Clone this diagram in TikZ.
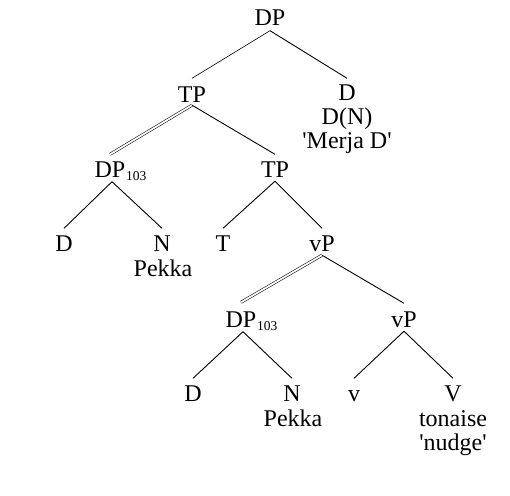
\documentclass[tikz,border=0pt]{standalone}
\usepackage{fontspec}
\setmainfont{Liberation Serif}[Ligatures=TeXOff]
\begin{document}
\begin{tikzpicture}[x=1pt,y=-1pt,
  lbl/.style={anchor=base, inner sep=0pt, font=\fontsize{24}{26}\selectfont},
  cat/.style={lbl, text height=15.5pt, text depth=0pt},
  subs/.style={anchor=base west, inner sep=0pt, font=\fontsize{13.5}{14}\selectfont},
  br/.style={line width=0.9pt},
  thinbr/.style={line width=0.6pt},
  dbl/.style={double, line width=0.55pt, double distance=1.8pt}]
\useasboundingbox (0,0) rectangle (510,495);
% nodes
\node[cat] (dp) at (270,26) {DP};
\node[cat] (tp) at (192,102) {TP};
\node[cat] (dd) at (347,100) {D};
\node[lbl] (ddn) at (347,124) {D(N)};
\node[lbl] (merja) at (347,148) {'Merja D'};
\node[cat] (dpa) at (110,177) {DP};
\node[subs] (dpasub) at ([xshift=0.5pt,yshift=-3pt]dpa.base east) {103};
\node[cat] (tpb) at (275,177) {TP};
\node[cat] (da) at (64,251) {D};
\node[cat] (na) at (162,251) {N};
\node[lbl] (pekkaa) at (163,276) {Pekka};
\node[cat] (t) at (223,251) {T};
\node[cat] (vpa) at (322,251) {vP};
\node[cat] (dpb) at (241,327) {DP};
\node[subs] (dpbsub) at ([xshift=0.5pt,yshift=-3pt]dpb.base east) {103};
\node[cat] (vpb) at (404,327) {vP};
\node[cat] (db) at (193,401) {D};
\node[cat] (nb) at (292,401) {N};
\node[lbl] (pekkab) at (293,426) {Pekka};
\node[cat] (v) at (354,401) {v};
\node[cat] (vv) at (453,401) {V};
\node[lbl] (tonaise) at (453,426) {tonaise};
\node[lbl] (nudge) at (453,450) {'nudge'};
% connectors
\draw[thinbr] ([yshift=-4.5pt]dp.south) -- ([yshift=8pt]tp.north);
\draw[br] ([yshift=-4.5pt]dp.south) -- ([yshift=6pt]dd.north);
\draw[dbl] ([yshift=-3pt]tp.south) -- ([yshift=7pt]dpa.north);
\draw[br] ([yshift=-3pt]tp.south) -- ([yshift=7pt]tpb.north);
\draw[br] ([xshift=2pt,yshift=-4.5pt]dpa.south) -- ([yshift=7pt]da.north);
\draw[br] ([xshift=2pt,yshift=-4.5pt]dpa.south) -- ([yshift=7pt]na.north);
\draw[br] ([yshift=-4pt]tpb.south) -- ([yshift=7pt]t.north);
\draw[br] ([yshift=-4pt]tpb.south) -- ([yshift=7pt]vpa.north);
\draw[dbl] ([yshift=-4pt]vpa.south) -- ([yshift=9pt]dpb.north);
\draw[br] ([yshift=-4pt]vpa.south) -- ([yshift=8pt]vpb.north);
\draw[br] ([xshift=2pt,yshift=-4.5pt]dpb.south) -- ([yshift=7pt]db.north);
\draw[br] ([xshift=2pt,yshift=-4.5pt]dpb.south) -- ([yshift=7pt]nb.north);
\draw[br] ([yshift=-4pt]vpb.south) -- ([yshift=7pt]v.north);
\draw[br] ([yshift=-4pt]vpb.south) -- ([yshift=7pt]vv.north);
\end{tikzpicture}
\end{document}
